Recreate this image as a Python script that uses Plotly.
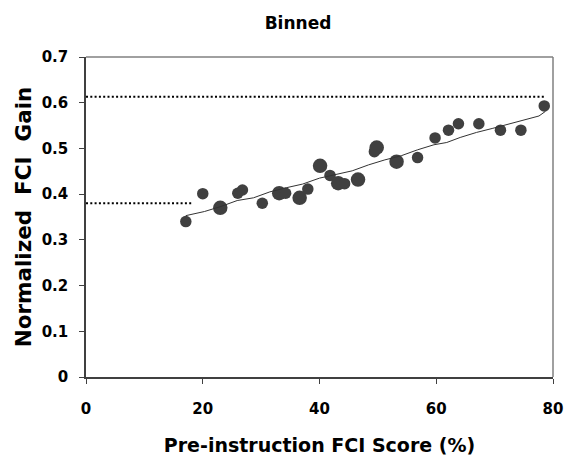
import plotly.graph_objects as go

# Binned data: pre-instruction FCI score (%) vs normalized FCI gain
pre_score = [17.1, 20.0, 23.0, 26.0, 26.8, 30.2, 33.1, 34.2, 36.6, 38.0,
             40.1, 41.8, 43.2, 44.3, 46.6, 49.4, 49.8, 53.2, 56.8, 59.8,
             62.1, 63.8, 67.3, 71.0, 74.5, 78.5]
gain = [0.340, 0.401, 0.370, 0.402, 0.409, 0.380, 0.402, 0.402, 0.392, 0.411,
        0.462, 0.441, 0.424, 0.423, 0.432, 0.493, 0.502, 0.471, 0.480, 0.523,
        0.540, 0.554, 0.554, 0.540, 0.540, 0.593]
bin_weight = [1, 1, 2, 1, 1, 1, 2, 1, 2, 1,
              2, 1, 2, 1, 2, 1, 2, 2, 1, 1,
              1, 1, 1, 1, 1, 1]

# Smoothed trend line
trend_x = [17.1, 20.3, 23.1, 25.9, 28.7, 31.5, 34.3, 37.1, 40.0, 42.8,
           45.6, 48.4, 51.2, 54.0, 56.8, 59.6, 61.8, 64.1, 66.9, 69.7,
           72.5, 75.3, 77.6, 78.7]
trend_y = [0.353, 0.362, 0.373, 0.386, 0.392, 0.405, 0.414, 0.422, 0.435, 0.443,
           0.451, 0.464, 0.475, 0.484, 0.497, 0.508, 0.513, 0.524, 0.535, 0.544,
           0.554, 0.564, 0.571, 0.581]

# Reference (dotted) levels
upper_x = [0, 78.6]
upper_y = [0.613, 0.613]
lower_x = [0, 18.4]
lower_y = [0.380, 0.380]

x_ticks = [0, 20, 40, 60, 80]
y_ticks = [0, 0.1, 0.2, 0.3, 0.4, 0.5, 0.6, 0.7]
y_tick_labels = ["0", "0.1", "0.2", "0.3", "0.4", "0.5", "0.6", "0.7"]

FONT = "DejaVu Sans"
DARK = "#404040"

fig = go.Figure()

fig.add_trace(go.Scatter(x=upper_x, y=upper_y, mode="lines",
                         line=dict(color="black", width=2, dash="2px,2.3px"),
                         hoverinfo="skip", showlegend=False))
fig.add_trace(go.Scatter(x=lower_x, y=lower_y, mode="lines",
                         line=dict(color="black", width=2, dash="2px,2.3px"),
                         hoverinfo="skip", showlegend=False))
fig.add_trace(go.Scatter(x=pre_score, y=gain, mode="markers",
                         marker=dict(color=DARK, opacity=1,
                                     size=[11.5 if w == 1 else 14.5 for w in bin_weight],
                                     line=dict(width=0)),
                         showlegend=False))
fig.add_trace(go.Scatter(x=trend_x, y=trend_y, mode="lines",
                         line=dict(color="#333333", width=1),
                         showlegend=False))

fig.update_layout(
    width=575, height=466,
    margin=dict(l=86, r=14, t=57, b=89),
    paper_bgcolor="white", plot_bgcolor="white",
    showlegend=False,
    font=dict(family=FONT, color="black", weight="bold"),
    title=dict(text="Binned", x=298 / 575, xanchor="center", xref="container",
               y=1 - 23 / 466, yanchor="middle", yref="container",
               font=dict(family=FONT, size=17, color="black", weight="bold")),
)

fig.update_xaxes(
    range=[0, 80], tickvals=x_ticks, ticktext=[str(v) for v in x_ticks],
    showgrid=False, zeroline=False,
    showline=True, linecolor=DARK, linewidth=1.5,
    ticks="outside", ticklen=5, tickwidth=1, tickcolor=DARK,
    ticklabelstandoff=12,
    tickfont=dict(family=FONT, size=15, color="black", weight="bold"),
    title=dict(text="Pre-instruction FCI Score (%)", standoff=22,
               font=dict(family=FONT, size=19, color="black", weight="bold")),
)
fig.update_yaxes(
    range=[0, 0.7], tickvals=y_ticks, ticktext=y_tick_labels,
    showgrid=False, zeroline=False,
    showline=True, linecolor=DARK, linewidth=1.5,
    ticks="outside", ticklen=5, tickwidth=1, tickcolor=DARK,
    ticklabelstandoff=8,
    tickfont=dict(family=FONT, size=15, color="black", weight="bold"),
    title=dict(text="Normalized  FCI  Gain", standoff=4,
               font=dict(family=FONT, size=21.5, color="black", weight="bold")),
)

# grey frame on top and right sides of the plot area
fig.add_shape(type="line", xref="x domain", yref="y domain",
              x0=0, x1=1, y0=1, y1=1, line=dict(color="#808080", width=1.5))
fig.add_shape(type="line", xref="x domain", yref="y domain",
              x0=1, x1=1, y0=0, y1=1, line=dict(color="#808080", width=1.5))

fig.write_html("out.html")
